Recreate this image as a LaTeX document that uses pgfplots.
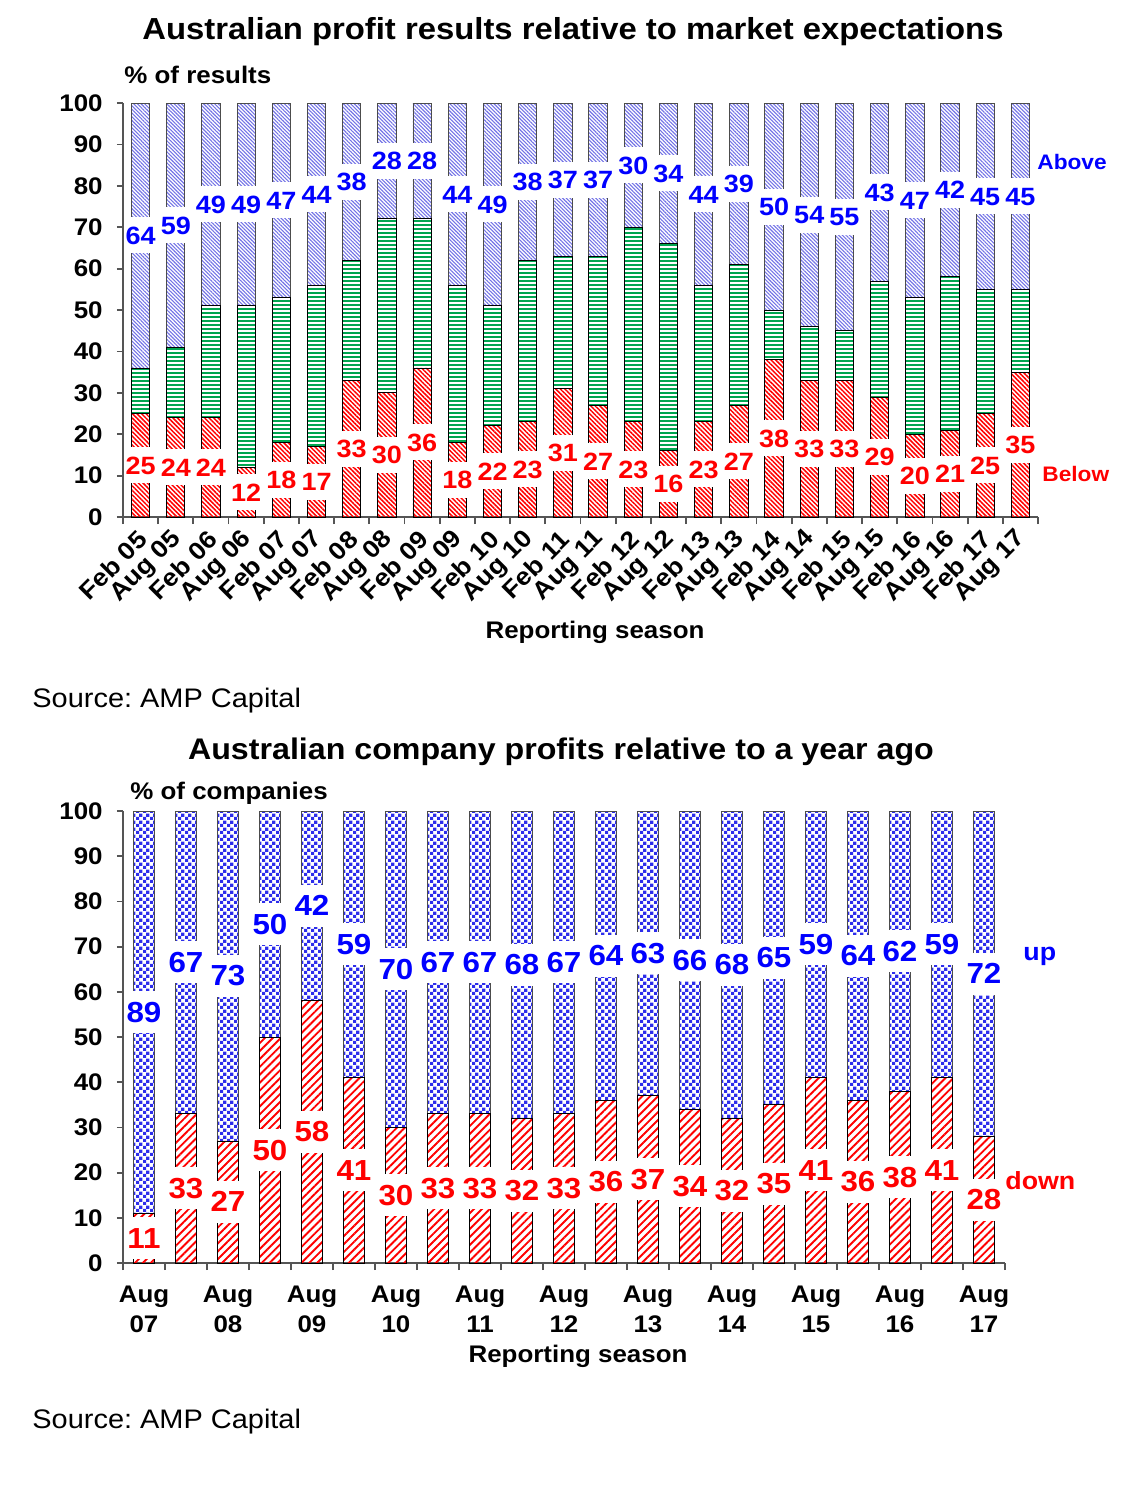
\documentclass[border=0pt]{standalone}
\usepackage{fontspec}
\setmainfont{Liberation Sans}[FakeStretch=1.08]
\usepackage{pgfplots}
\pgfplotsset{compat=1.18}
\usepackage{pgfplotstable}
\usetikzlibrary{patterns,patterns.meta}
\frenchspacing

\definecolor{lblue}{RGB}{0,0,255}
\definecolor{hatchblue}{RGB}{115,115,230}
\definecolor{gr}{RGB}{0,165,80}
\definecolor{chk}{RGB}{45,45,235}
\definecolor{axgray}{RGB}{85,85,85}

\pgfdeclarepatternformonly{checker}{\pgfqpoint{0pt}{0pt}}{\pgfqpoint{3.6pt}{3.6pt}}{\pgfqpoint{3.6pt}{3.6pt}}{%
 \pgfpathrectangle{\pgfqpoint{0pt}{0pt}}{\pgfqpoint{1.8pt}{1.8pt}}%
 \pgfpathrectangle{\pgfqpoint{1.8pt}{1.8pt}}{\pgfqpoint{1.8pt}{1.8pt}}%
 \pgfusepath{fill}}

\newcommand\fs[1]{\fontsize{#1}{#1}\selectfont}

% Top chart: share of results below / in line / above expectations
\pgfplotstableread{
x below inline above
0 25 11 64
1 24 17 59
2 24 27 49
3 12 39 49
4 18 35 47
5 17 39 44
6 33 29 38
7 30 42 28
8 36 36 28
9 18 38 44
10 22 29 49
11 23 39 38
12 31 32 37
13 27 36 37
14 23 47 30
15 16 50 34
16 23 33 44
17 27 34 39
18 38 12 50
19 33 13 54
20 33 12 55
21 29 28 43
22 20 33 47
23 21 37 42
24 25 30 45
25 35 20 45
}\topdata

% Bottom chart: share of companies with profits down / up
\pgfplotstableread{
x down up
0 11 89
1 33 67
2 27 73
3 50 50
4 58 42
5 41 59
6 30 70
7 33 67
8 33 67
9 32 68
10 33 67
11 36 64
12 37 63
13 34 66
14 32 68
15 35 65
16 41 59
17 36 64
18 38 62
19 41 59
20 28 72
}\botdata

\pgfplotsset{
 mybase/.style={
   scale only axis, axis lines*=left,
   axis line style={axgray, line width=1pt, -},
   tick style={axgray, line width=0.9pt},
   tick align=outside,
   ymin=0, ymax=100, ytick={0,10,...,100},
   /pgf/number format/assume math mode=true,
   yticklabel style={font=\bfseries\fs{12}, xshift=-7pt},
   major tick length=3pt, minor tick length=3.5pt,
   major x tick style={draw=none},
   clip=false},
 lab/.style={
   scale only axis, hide axis, ymin=0, ymax=100, clip=false,
   /pgf/number format/assume math mode=true},
}

\begin{document}
\begin{tikzpicture}[every node/.style={inner sep=0pt}]
\useasboundingbox (0,0) rectangle (563.5pt,-742.5pt);

% ---------- top chart ----------
\node[font=\bfseries\fs{15.2}] at (286.5pt,-16pt) {Australian profit results relative to market expectations};
\node[font=\bfseries\fs{12}, anchor=west] at (62pt,-37.5pt) {\% of results};

\begin{axis}[mybase, at={(61.5pt,-258.5pt)}, anchor=south west,
  width=457.5pt, height=207pt, xmin=-0.5, xmax=25.5,
  ybar stacked, bar width=0.52,
  xtick={0,...,25},
  xticklabels={Feb 05,Aug 05,Feb 06,Aug 06,Feb 07,Aug 07,Feb 08,Aug 08,Feb 09,Aug 09,Feb 10,Aug 10,Feb 11,Aug 11,Feb 12,Aug 12,Feb 13,Aug 13,Feb 14,Aug 14,Feb 15,Aug 15,Feb 16,Aug 16,Feb 17,Aug 17},
  minor xtick={-0.5,0.5,...,25.5},
  xticklabel style={rotate=45, anchor=east, font=\bfseries\fs{12.3}, yshift=-5pt, xshift=-3.5pt},
]
\addplot[draw=black, line width=0.45pt, pattern={Lines[angle=-45,distance=1.6pt,line width=0.75pt]}, pattern color=red] table[x=x,y=below] \topdata;
\addplot[draw=black, line width=0.45pt, pattern={Lines[angle=0,distance=2pt,line width=1.3pt]}, pattern color=gr] table[x=x,y=inline] \topdata;
\addplot[draw=black!70, line width=0.45pt, pattern={Lines[angle=-45,distance=1.3pt,line width=0.55pt]}, pattern color=hatchblue] table[x=x,y=above] \topdata;
\end{axis}

\begin{axis}[lab, at={(61.5pt,-258.5pt)}, anchor=south west,
  width=457.5pt, height=207pt, xmin=-0.5, xmax=25.5,
  every node near coord/.append style={anchor=center, fill=white, inner xsep=0.4pt, inner ysep=1pt, text height=12.5pt, text depth=3.5pt, font=\bfseries\fs{12.5}}]
\addplot[draw=none, mark=none, nodes near coords, point meta=explicit,
  every node near coord/.append style={text=red}]
  table[x=x, y expr=\thisrow{below}/2, meta=below] \topdata;
\addplot[draw=none, mark=none, nodes near coords, point meta=explicit,
  every node near coord/.append style={text=lblue}]
  table[x=x, y expr=100-\thisrow{above}/2, meta=above] \topdata;
\end{axis}

\node[font=\bfseries\fs{10.5}, text=lblue, anchor=west] at (518.5pt,-81pt) {Above};
\node[font=\bfseries\fs{10.5}, text=red, anchor=west] at (521pt,-237pt) {Below};
\node[font=\bfseries\fs{12}] at (297.5pt,-316pt) {Reporting season};
\node[font=\fs{13.4}, anchor=west] at (16pt,-350.5pt) {Source: AMP Capital};

% ---------- bottom chart ----------
\node[font=\bfseries\fs{14.9}] at (280.5pt,-376pt) {Australian company profits relative to a year ago};
\node[font=\bfseries\fs{12}, anchor=west] at (65pt,-396.5pt) {\% of companies};

\begin{axis}[mybase, at={(61.5pt,-631.5pt)}, anchor=south west,
  width=441pt, height=226pt, xmin=-0.5, xmax=20.5,
  ybar stacked, bar width=0.5,
  xtick={0,2,...,20},
  xticklabels={{Aug\\07},{Aug\\08},{Aug\\09},{Aug\\10},{Aug\\11},{Aug\\12},{Aug\\13},{Aug\\14},{Aug\\15},{Aug\\16},{Aug\\17}},
  minor xtick={-0.5,0.5,...,20.5},
  xticklabel style={align=center, font=\bfseries\fontsize{12}{15}\selectfont, yshift=-8.5pt},
]
\addplot[draw=black, line width=0.45pt, pattern={Lines[angle=45,distance=2.8pt,line width=0.95pt]}, pattern color=red] table[x=x,y=down] \botdata;
\addplot[draw=black!70, line width=0.45pt, pattern=checker, pattern color=chk] table[x=x,y=up] \botdata;
\end{axis}

\begin{axis}[lab, at={(61.5pt,-631.5pt)}, anchor=south west,
  width=441pt, height=226pt, xmin=-0.5, xmax=20.5,
  every node near coord/.append style={anchor=center, fill=white, inner xsep=0.4pt, inner ysep=1pt, text height=14.5pt, text depth=4.5pt, font=\bfseries\fs{14.5}}]
\addplot[draw=none, mark=none, nodes near coords, point meta=explicit,
  every node near coord/.append style={text=red}]
  table[x=x, y expr=\thisrow{down}/2, meta=down] \botdata;
\addplot[draw=none, mark=none, nodes near coords, point meta=explicit,
  every node near coord/.append style={text=lblue}]
  table[x=x, y expr=100-\thisrow{up}/2, meta=up] \botdata;
\end{axis}

\node[font=\bfseries\fs{12.4}, text=lblue, anchor=west] at (511.5pt,-478pt) {up};
\node[font=\bfseries\fs{12.4}, text=red, anchor=west] at (502.5pt,-590.5pt) {down};
\node[font=\bfseries\fs{12}] at (289pt,-678pt) {Reporting season};
\node[font=\fs{13.4}, anchor=west] at (16pt,-711pt) {Source: AMP Capital};
\end{tikzpicture}
\end{document}
